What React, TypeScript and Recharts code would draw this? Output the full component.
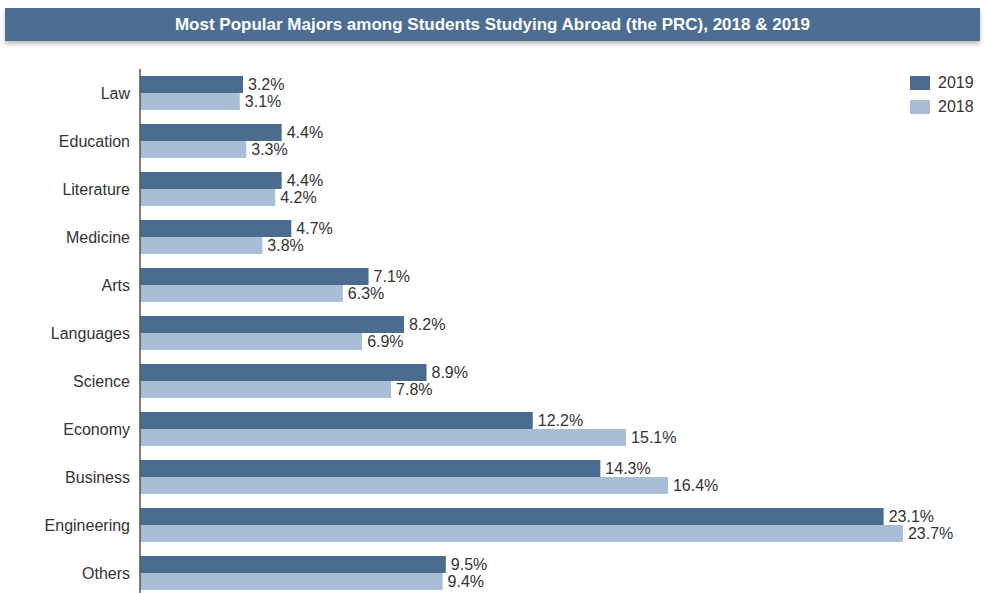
import React from 'react';
import { BarChart, Bar, XAxis, YAxis, LabelList } from 'recharts';

const majors = ['Law', 'Education', 'Literature', 'Medicine', 'Arts', 'Languages', 'Science', 'Economy', 'Business', 'Engineering', 'Others'];
const share2019 = [3.2, 4.4, 4.4, 4.7, 7.1, 8.2, 8.9, 12.2, 14.3, 23.1, 9.5];
const share2018 = [3.1, 3.3, 4.2, 3.8, 6.3, 6.9, 7.8, 15.1, 16.4, 23.7, 9.4];
const seriesNames = ['2019', '2018'];

const data = majors.map((name, i) => ({ name, y2019: share2019[i], y2018: share2018[i] }));

const DARK = '#4b6b8f';
const LIGHT = '#a9bdd4';
const FONT = '"Liberation Sans", Arial, sans-serif';
const colors = [DARK, LIGHT];

export default function App() {
  return (
    <div style={{ position: 'relative', width: 984, height: 593, background: '#fff', overflow: 'hidden' }}>
      <style>{'body{margin:0}'}</style>
      <div
        style={{
          position: 'absolute', left: 5, top: 8, width: 975, height: 33,
          background: '#4d6d92', boxShadow: '0 3px 4px rgba(0,0,0,0.25)',
          color: '#fff', fontFamily: '"Liberation Sans Narrow", "Arial Narrow", ' + FONT,
          fontWeight: 'bold', fontSize: 17, lineHeight: '33px', textAlign: 'center',
        }}
      >
        Most Popular Majors among Students Studying Abroad (the PRC), 2018 &amp; 2019
      </div>
      {/* legend kept outside the chart so it doesn't eat plot width */}
      <div style={{ position: 'absolute', left: 910, top: 71, fontFamily: FONT, fontSize: 16, color: '#333' }}>
        {seriesNames.map((n, i) => (
          <div key={n} style={{ display: 'flex', alignItems: 'center', height: 24 }}>
            <span style={{ display: 'inline-block', width: 20, height: 14, background: colors[i], marginRight: 8 }} />
            {n}
          </div>
        ))}
      </div>
      <BarChart
        width={984}
        height={597}
        data={data}
        layout="vertical"
        margin={{ top: 69, right: 7, bottom: 0, left: 0 }}
        barGap={0}
        barSize={17}
      >
        <XAxis type="number" domain={[0, 26]} allowDataOverflow hide />
        <YAxis
          type="category"
          dataKey="name"
          width={140}
          tickSize={0}
          tickMargin={10}
          tickLine={false}
          axisLine={{ stroke: '#555', strokeWidth: 1.5 }}
          tick={{ fontSize: 16, fill: '#333', fontFamily: FONT }}
        />
        <Bar dataKey="y2019" name="2019" fill={DARK} isAnimationActive={false}>
          <LabelList dataKey="y2019" position="right" offset={5} formatter={(v: any) => `${v}%`} style={{ fontSize: 16, fill: '#333', fontFamily: FONT }} />
        </Bar>
        <Bar dataKey="y2018" name="2018" fill={LIGHT} isAnimationActive={false}>
          <LabelList dataKey="y2018" position="right" offset={5} formatter={(v: any) => `${v}%`} style={{ fontSize: 16, fill: '#333', fontFamily: FONT }} />
        </Bar>
      </BarChart>
    </div>
  );
}
